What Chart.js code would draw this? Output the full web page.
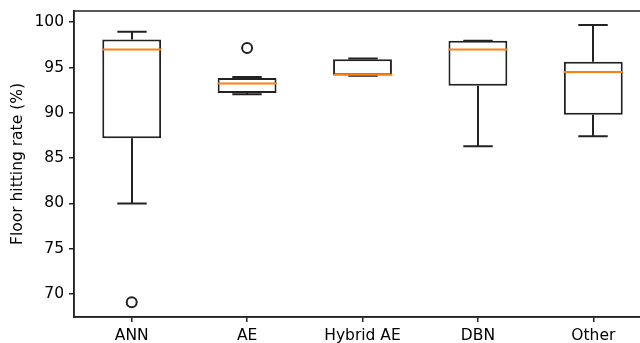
<!DOCTYPE html>
<html>
<head>
<meta charset="utf-8">
<script src="https://cdn.jsdelivr.net/npm/chart.js@4/dist/chart.umd.min.js"></script>
<style>
  html, body { margin: 0; padding: 0; overflow: hidden; background: #fff; }
  canvas { display: block; }
</style>
</head>
<body>
<canvas id="boxChart" width="660" height="343"></canvas>
<script>
// box plot values
var labels = ['ANN', 'AE', 'Hybrid AE', 'DBN', 'Other'];
var whiskerLow = [80.0, 92.05, 94.1, 86.3, 87.4];
var q1 = [87.2, 92.2, 94.15, 93.0, 89.8];
var median = [97.0, 93.25, 94.2, 97.0, 94.5];
var q3 = [98.1, 93.85, 95.9, 97.95, 95.65];
var whiskerHigh = [98.95, 93.95, 96.0, 97.95, 99.7];
var outliers = [69.1, 97.15, null, null, null];
var yTicks = [70, 75, 80, 85, 90, 95, 100];

var lineColor = '#222';
var font = { family: 'DejaVu Sans', size: 15.5 };

// whiskers, caps, medians and the axes frame
var boxExtras = {
  id: 'boxExtras',
  afterDatasetsDraw: function (chart) {
    var ctx = chart.ctx;
    var x = chart.scales.x, y = chart.scales.y;
    var bars = chart.getDatasetMeta(0).data;
    ctx.save();
    ctx.lineCap = 'butt';
    for (var i = 0; i < labels.length; i++) {
      var cx = Math.round(x.getPixelForValue(i));
      var half = bars[i].width / 2;
      var cap = half / 2;
      ctx.strokeStyle = lineColor;
      ctx.lineWidth = 2;
      ctx.beginPath();
      ctx.moveTo(cx, y.getPixelForValue(q3[i]));
      ctx.lineTo(cx, y.getPixelForValue(whiskerHigh[i]));
      ctx.moveTo(cx, y.getPixelForValue(q1[i]));
      ctx.lineTo(cx, y.getPixelForValue(whiskerLow[i]));
      ctx.moveTo(cx - cap, y.getPixelForValue(whiskerHigh[i]));
      ctx.lineTo(cx + cap, y.getPixelForValue(whiskerHigh[i]));
      ctx.moveTo(cx - cap, y.getPixelForValue(whiskerLow[i]));
      ctx.lineTo(cx + cap, y.getPixelForValue(whiskerLow[i]));
      ctx.stroke();
      ctx.strokeStyle = '#ff7f0e';
      ctx.beginPath();
      ctx.moveTo(cx - half, y.getPixelForValue(median[i]));
      ctx.lineTo(cx + half, y.getPixelForValue(median[i]));
      ctx.stroke();
    }
    var a = chart.chartArea;
    ctx.strokeStyle = lineColor;
    ctx.lineWidth = 1.5;
    ctx.strokeRect(a.left, a.top, a.right - a.left, a.bottom - a.top);
    ctx.restore();
  }
};

var ctx1 = document.getElementById('boxChart').getContext('2d');
var chart1 = new Chart(ctx1, {
  type: 'bar',
  data: {
    labels: labels,
    datasets: [{
      type: 'bar',
      data: labels.map(function (l, i) { return [q1[i], q3[i]]; }),
      backgroundColor: '#ffffff',
      borderColor: lineColor,
      borderWidth: 2,
      borderSkipped: false,
      barPercentage: 0.51,
      categoryPercentage: 1.0
    }, {
      type: 'line',
      data: outliers,
      showLine: false,
      pointStyle: 'circle',
      pointRadius: 5,
      pointBorderWidth: 2,
      pointBorderColor: lineColor,
      pointBackgroundColor: '#ffffff'
    }]
  },
  options: {
    responsive: false,
    animation: false,
    layout: { padding: { top: 11, right: 9, left: 0, bottom: 0 } },
    plugins: { legend: { display: false }, tooltip: { enabled: false } },
    scales: {
      x: {
        offset: true,
        grid: { display: true, offset: false, drawOnChartArea: false, drawTicks: true, tickLength: 5, color: lineColor, lineWidth: 1.5 },
        border: { display: true, color: lineColor, width: 1.5 },
        ticks: { color: '#000', font: font, padding: 5, maxRotation: 0 },
        afterFit: function (scale) { scale.height = 26; scale.paddingLeft = 0; scale.paddingRight = 0; }
      },
      y: {
        min: 67.46,
        max: 101.24,
        grid: { display: true, drawOnChartArea: false, drawTicks: true, tickLength: 5, color: lineColor, lineWidth: 1.5 },
        border: { display: true, color: lineColor, width: 1.5 },
        ticks: { color: '#000', font: font, padding: 5 },
        afterBuildTicks: function (scale) {
          scale.ticks = yTicks.map(function (v) { return { value: v }; });
        },
        afterFit: function (scale) { scale.width = 74; scale.paddingTop = 0; scale.paddingBottom = 0; },
        title: { display: true, text: 'Floor hitting rate (%)', color: '#000', font: font, padding: { top: 9, bottom: 0 } }
      }
    }
  },
  plugins: [boxExtras]
});
</script>
</body>
</html>
